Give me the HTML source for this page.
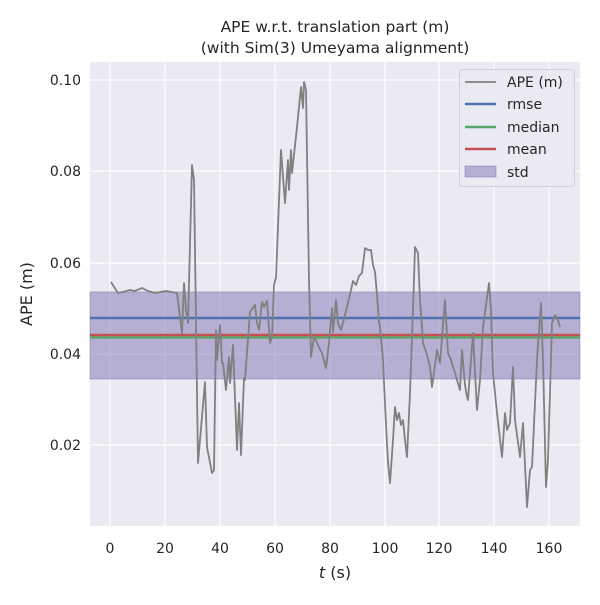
<!DOCTYPE html>
<html><head><meta charset="utf-8"><style>
body{margin:0;background:#fff}
svg text{font-family:"DejaVu Sans","Liberation Sans",sans-serif;fill:#262626}
</style></head><body>
<svg width="600" height="600" viewBox="0 0 600 600" xmlns="http://www.w3.org/2000/svg">
<rect x="0" y="0" width="600" height="600" fill="#fff"/>
<rect x="90" y="62" width="490" height="464" fill="#eaeaf2"/>
<g stroke="#fff" stroke-width="1.2">
<line x1="110" y1="62" x2="110" y2="526"/><line x1="165" y1="62" x2="165" y2="526"/><line x1="220" y1="62" x2="220" y2="526"/><line x1="275" y1="62" x2="275" y2="526"/><line x1="330" y1="62" x2="330" y2="526"/><line x1="385" y1="62" x2="385" y2="526"/><line x1="439" y1="62" x2="439" y2="526"/><line x1="494" y1="62" x2="494" y2="526"/><line x1="549" y1="62" x2="549" y2="526"/>
<line x1="90" y1="80" x2="580" y2="80"/><line x1="90" y1="171" x2="580" y2="171"/><line x1="90" y1="263" x2="580" y2="263"/><line x1="90" y1="354" x2="580" y2="354"/><line x1="90" y1="445" x2="580" y2="445"/>
</g>
<rect x="90" y="292" width="490" height="87" fill="#8172b3" fill-opacity="0.5" stroke="#8172b3" stroke-opacity="0.5"/>
<line x1="90" y1="318" x2="580" y2="318" stroke="#4c72b0" stroke-width="2.5"/>
<line x1="90" y1="337.5" x2="580" y2="337.5" stroke="#55a868" stroke-width="2.5"/>
<line x1="90" y1="335" x2="580" y2="335" stroke="#c44e52" stroke-width="2.5"/>
<polyline fill="none" stroke="#808080" stroke-width="1.8" stroke-linejoin="round" points="111,282 118,293 123,292 130,290 135,291 142,288 148,291 155,293 166,291 177,293 182,333 184,283 186,310 188,323 192,165 194,180 198,463 205,382 207,447 212,473 214,470 216,330 217,360 220,325 222,363 223,363 226,390 229,357 230,383 233,345 237,450 239,403 241,455 244,378 245,380 250,312 255,305 257,323 259,330 262,302 264,307 267,301 270,343 272,337 274,285 276,277 281,150 285,203 288,160 289,190 291,150 292,173 297,127 301,87 303,108 304,82 306,90 309,280 311,357 314,337 322,353 326,368 329,343 332,308 333,332 336,300 338,323 341,330 345,315 351,290 353,281 356,285 359,276 362,273 365,248 368,250 371,250 373,265 375,272 377,295 379,322 380,327 383,360 386,425 388,462 390,483 393,440 395,407 397,420 399,413 401,425 403,420 405,440 407,457 410,393 413,310 415,247 418,253 420,300 422,327 423,343 427,355 430,367 432,387 435,365 437,350 440,363 443,325 445,300 448,353 451,360 455,373 460,390 462,350 465,385 467,397 468,400 473,333 477,410 480,380 483,327 486,305 489,283 491,310 493,373 497,413 502,457 505,413 507,430 510,423 513,367 515,420 520,457 523,423 527,507 530,470 532,467 537,360 541,303 543,360 546,487 548,460 552,323 555,315 558,320 560,327"/>
<g font-size="14" text-anchor="middle">
<text x="110" y="553">0</text><text x="165" y="553">20</text><text x="220" y="553">40</text><text x="275" y="553">60</text><text x="330" y="553">80</text><text x="385" y="553">100</text><text x="439" y="553">120</text><text x="494" y="553">140</text><text x="549" y="553">160</text>
</g>
<g font-size="14" text-anchor="end">
<text x="81" y="85">0.10</text><text x="81" y="176">0.08</text><text x="81" y="268">0.06</text><text x="81" y="359">0.04</text><text x="81" y="450">0.02</text>
</g>
<text x="335" y="578" font-size="16" text-anchor="middle"><tspan font-style="italic">t</tspan> (s)</text>
<text x="32" y="294" font-size="16" text-anchor="middle" transform="rotate(-90 32 294)">APE (m)</text>
<text x="335" y="32" font-size="15.5" text-anchor="middle">APE w.r.t. translation part (m)</text>
<text x="335" y="53" font-size="15.5" text-anchor="middle">(with Sim(3) Umeyama alignment)</text>
<rect x="459.5" y="69.5" width="115" height="117" rx="3" fill="#eaeaf2" fill-opacity="0.8" stroke="#d0d0d8"/>
<line x1="465" y1="82" x2="496" y2="82" stroke="#808080" stroke-width="1.8"/>
<line x1="465" y1="104" x2="496" y2="104" stroke="#4c72b0" stroke-width="2.5"/>
<line x1="465" y1="127" x2="496" y2="127" stroke="#55a868" stroke-width="2.5"/>
<line x1="465" y1="149" x2="496" y2="149" stroke="#c44e52" stroke-width="2.5"/>
<rect x="465" y="166" width="31" height="11" fill="#8172b3" fill-opacity="0.5" stroke="#8172b3" stroke-opacity="0.5"/>
<g font-size="14">
<text x="507" y="87">APE (m)</text><text x="507" y="109">rmse</text><text x="507" y="132">median</text><text x="507" y="154">mean</text><text x="507" y="177">std</text>
</g>
</svg>
</body></html>
